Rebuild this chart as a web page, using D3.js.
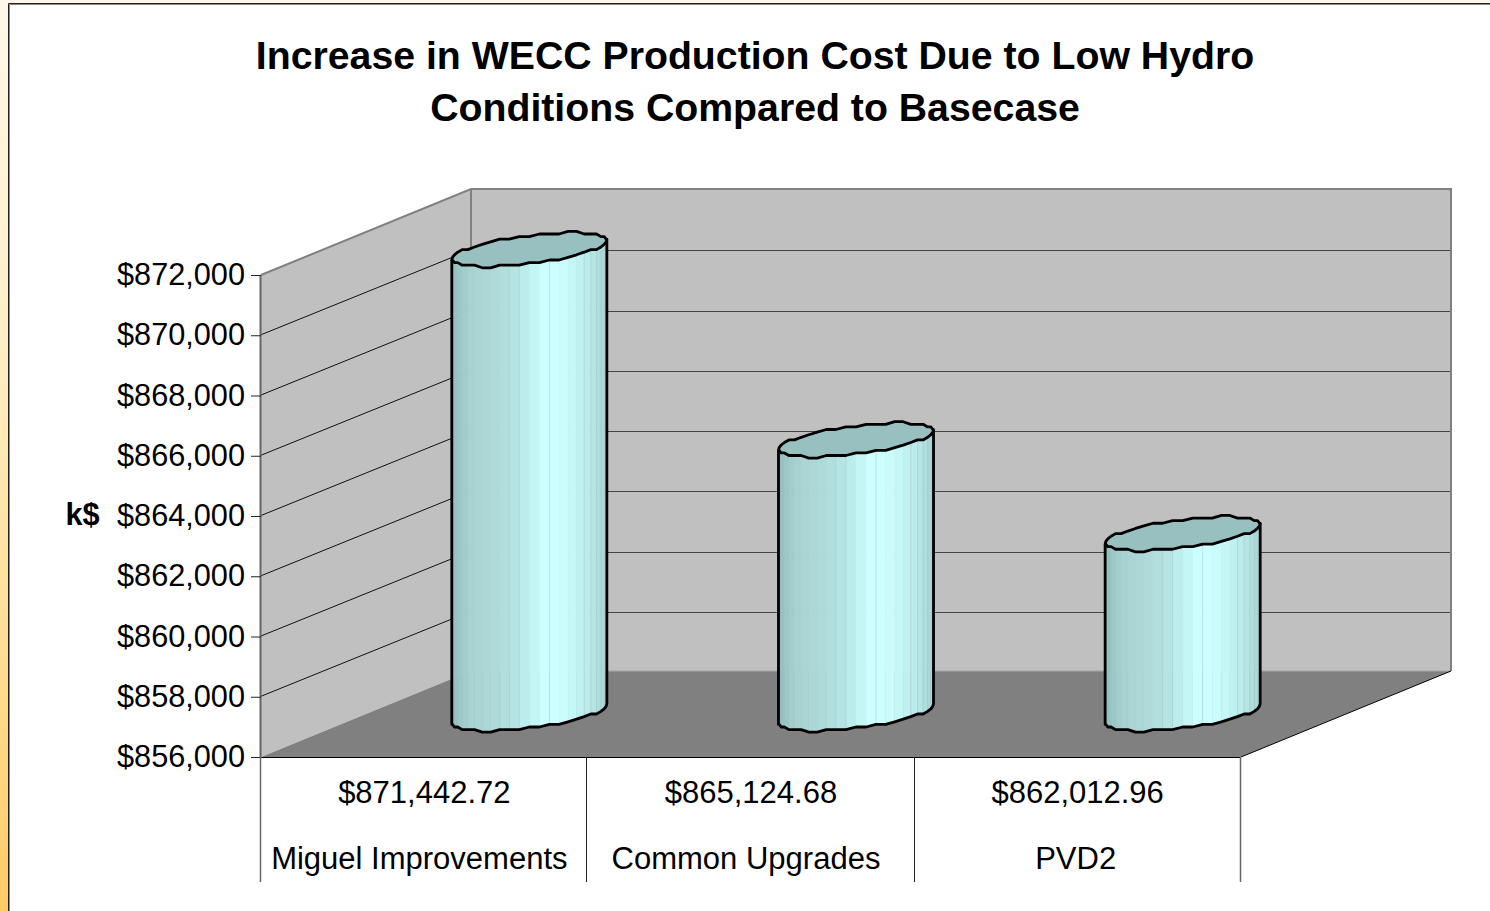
<!DOCTYPE html>
<html><head><meta charset="utf-8">
<style>html,body{margin:0;padding:0;background:#fff}svg{display:block}text{font-family:"Liberation Sans",Arial,sans-serif;fill:#000}</style>
<script src="https://cdn.jsdelivr.net/npm/d3@7/dist/d3.min.js"></script>
</head><body><svg id="c" width="1490" height="911"></svg>
<script>
const titleLines = ["Increase in WECC Production Cost Due to Low Hydro", "Conditions Compared to Basecase"];
const categories = ["Miguel Improvements", "Common Upgrades", "PVD2"];
const values = [871442.72, 865124.68, 862012.96];
const valueLabels = ["$871,442.72", "$865,124.68", "$862,012.96"];
const yTicks = [856000, 858000, 860000, 862000, 864000, 866000, 868000, 870000, 872000];
const yTitle = "k$";

const W = 1490, H = 911;
const left = 261, right = 1241, yBase = 757, yTop = 275, DX = 210, DY = 86;
const svg = d3.select("#c");
const x = d3.scaleBand().domain(categories).range([left, right]);
const y = d3.scaleLinear().domain([856000, 872000]).range([yBase, yTop]);
const fmt = d3.format("$,");
const line = d3.line();

// page background and frame
const defs = svg.append("defs");
const g = defs.append("linearGradient").attr("id", "bg").attr("x1", 0).attr("y1", 0).attr("x2", 0).attr("y2", 1);
[[0, "#fff8ea"], [.35, "#ffefc8"], [.75, "#ffdb90"], [1, "#ffcc66"]].forEach(s => g.append("stop").attr("offset", s[0]).attr("stop-color", s[1]));
svg.append("rect").attr("width", W).attr("height", H).attr("fill", "url(#bg)");
svg.append("rect").attr("x", 9).attr("y", 4.5).attr("width", W - 9).attr("height", H - 4).attr("fill", "#fff");
svg.append("path").attr("d", line([[W, 3.5], [8.5, 3.5], [8.5, H]])).attr("fill", "none").attr("stroke", "#222").attr("stroke-width", 1);
svg.append("path").attr("d", line([[W, 4.5], [9.5, 4.5], [9.5, H]])).attr("fill", "none").attr("stroke", "#888").attr("stroke-width", 1);

// walls and floor
const yB = y(856000), yT = y(872000);
const poly = (pts, fill) => svg.append("polygon").attr("points", pts.map(p => p.join(",")).join(" ")).attr("fill", fill);
poly([[left, yT], [left + DX, yT - DY], [left + DX, yB - DY], [left, yB]], "#c0c0c0");
poly([[left + DX, yT - DY], [right + DX, yT - DY], [right + DX, yB - DY], [left + DX, yB - DY]], "#c0c0c0");
poly([[left, yB], [left + DX, yB - DY], [right + DX, yB - DY], [right, yB]], "#808080");

// gridlines
yTicks.slice(1, -1).forEach(t => {
  const v = y(t);
  svg.append("path").attr("d", line([[left, v - .5], [left + DX, v - DY + .5]])).attr("fill", "none").attr("stroke", "#111").attr("stroke-width", 1);
  svg.append("path").attr("d", line([[left + DX, Math.round(v - DY) + 1.5], [right + DX, Math.round(v - DY) + 1.5]])).attr("fill", "none").attr("stroke", "#444").attr("stroke-width", 1);
});
// wall edges
svg.append("path").attr("d", line([[left, yT], [left + DX, yT - DY], [right + DX, yT - DY], [right + DX, yB - DY]])).attr("fill", "none").attr("stroke", "#808080").attr("stroke-width", 2);
svg.append("path").attr("d", line([[left + DX, yT - DY], [left + DX, yB - DY]])).attr("fill", "none").attr("stroke", "#808080").attr("stroke-width", 2);
svg.append("path").attr("d", line([[left + DX, yB - DY], [right + DX, yB - DY]])).attr("fill", "none").attr("stroke", "#a6a6a6").attr("stroke-width", 1);
svg.append("path").attr("d", line([[right, yB], [right + DX, yB - DY]])).attr("fill", "none").attr("stroke", "#000").attr("stroke-width", 1);

// cylinders
const rx = 64.7, zx = 42.7, zy = 17, N = 48, q = 2.6;
const seamFacets = [10, 11, 14, 18, 19, 20, 21];
const a0 = Math.atan2(zx, rx);
const shade = d3.scaleLinear()
  .domain([0, .05, .13, .3, .4, .5, .58, .68, .78, .9, 1])
  .range(["#8fbaba", "#9cc8c8", "#a8d3d2", "#afdbda", "#b5e4e4", "#c0f0f0", "#ccffff", "#ccffff", "#c6f7f7", "#b8e8e8", "#a6d3d3"]);
const halfW = Math.hypot(rx, zx);
function P(cx, cy, t) {
  const dy = -zy * Math.sin(t);
  return [cx + rx * Math.cos(t) + zx * Math.sin(t), cy + Math.round(dy / q) * q];
}
const tFront = d3.range(0, N / 2 + 1).map(i => Math.PI + a0 + i * 2 * Math.PI / N);
const tAll = d3.range(0, N).map(i => Math.PI + a0 + i * 2 * Math.PI / N);
categories.forEach((c, idx) => {
  const cx = x(c) + x.bandwidth() / 2 + DX / 2;
  const cyT = y(values[idx]) - DY / 2 + .8, cyB = yBase - DY / 2;
  const G = svg.append("g");
  d3.pairs(tFront).forEach(([t1, t2]) => {
    const a = P(cx, cyT, t1), b = P(cx, cyT, t2), c2 = P(cx, cyB, t2), d = P(cx, cyB, t1);
    const u = ((a[0] + b[0]) / 2 - (cx - halfW)) / (2 * halfW);
    G.append("polygon").attr("points", [a, b, c2, d].map(p => p.join(",")).join(" ")).attr("fill", shade(u)).attr("stroke", shade(u)).attr("stroke-width", .5);
  });
  // faint facet seams
  seamFacets.forEach(k => {
    const a = P(cx, cyT, tFront[k]), b = P(cx, cyB, tFront[k]);
    G.append("path").attr("d", line([a, b])).attr("stroke", "#a8c8c8").attr("stroke-width", 1).attr("opacity", .45).attr("fill", "none");
  });
  const front = tFront.map(t => P(cx, cyB, t));
  const l = P(cx, cyT, tFront[0]), r = P(cx, cyT, tFront[tFront.length - 1]);
  G.append("path").attr("d", line([l, ...front, r])).attr("fill", "none").attr("stroke", "#000").attr("stroke-width", 2.8).attr("stroke-linejoin", "round");
  G.append("path").attr("d", line(tAll.map(t => P(cx, cyT, t))) + "Z").attr("fill", "#99c0c0").attr("stroke", "#000").attr("stroke-width", 2.8).attr("stroke-linejoin", "round");
});

// axes
svg.append("path").attr("d", line([[left - .5, yT], [left - .5, yB]])).attr("fill", "none").attr("stroke", "#666").attr("stroke-width", 2);
const yAxis = d3.axisLeft(y).tickValues(yTicks).tickFormat(fmt).tickSize(10).tickPadding(6);
const ax = svg.append("g").attr("transform", `translate(${left},0)`).call(yAxis);
ax.select(".domain").remove();
ax.selectAll("line").attr("stroke", "#222");
ax.selectAll("text").attr("font-size", 30.7).attr("dy", ".31em").attr("fill", "#000");

svg.append("path").attr("d", line([[left, yB + .5], [right, yB + .5]])).attr("stroke", "#000").attr("stroke-width", 1);
[left, x(categories[1]), x(categories[2]), right].forEach((v, i) => {
  svg.append("path").attr("d", line([[Math.floor(v) - .5 + (i === 2 ? 1 : 0), yB], [Math.floor(v) - .5 + (i === 2 ? 1 : 0), 882]])).attr("stroke", i === 0 || i === 3 ? "#666" : "#222").attr("stroke-width", i === 0 || i === 3 ? 1.5 : 1);
});

// data table labels
const nameShift = [-5, -5, -2];
categories.forEach((c, i) => {
  const m = x(c) + x.bandwidth() / 2;
  svg.append("text").attr("x", m).attr("y", 803).attr("text-anchor", "middle").attr("font-size", 31).text(valueLabels[i]);
  svg.append("text").attr("x", m + nameShift[i]).attr("y", 869).attr("text-anchor", "middle").attr("font-size", 31).text(c);
});

svg.append("text").attr("x", 82.5).attr("y", 525).attr("text-anchor", "middle").attr("font-size", 30.7).attr("font-weight", "bold").text(yTitle);
titleLines.forEach((s, i) => {
  svg.append("text").attr("x", 755).attr("y", 69 + i * 52).attr("text-anchor", "middle").attr("font-size", 39.24).attr("font-weight", "bold").text(s);
});
</script></body></html>
